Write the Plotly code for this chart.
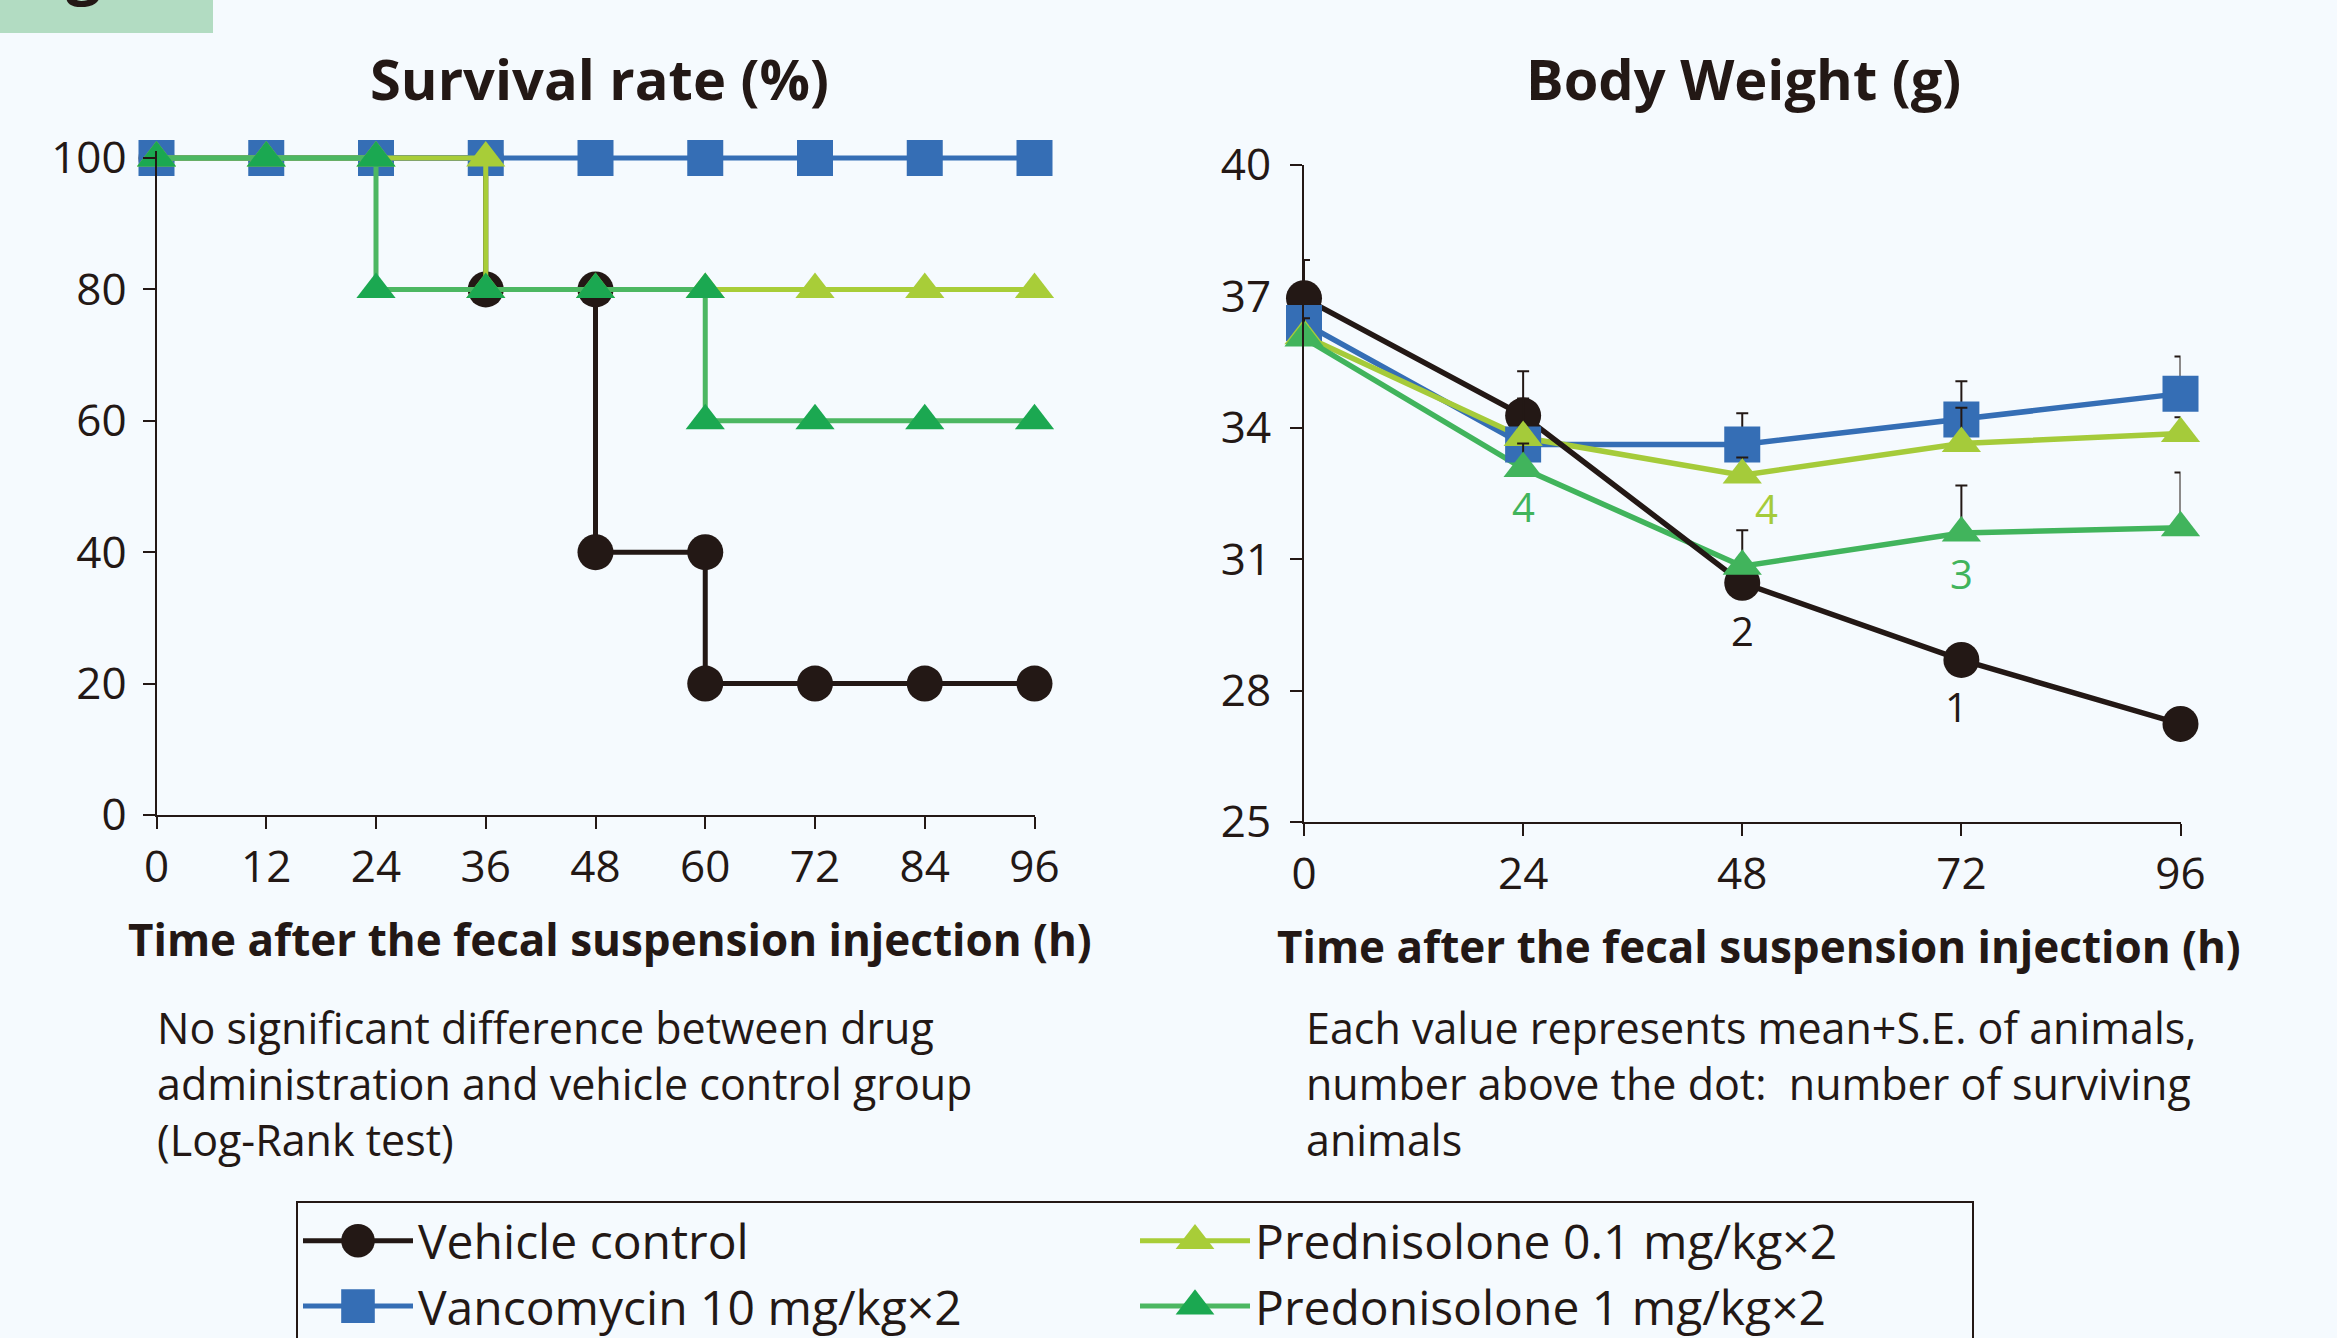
import plotly.graph_objects as go

# ---------------- data ----------------
series_names = ["Vehicle control", "Vancomycin 10 mg/kg×2",
                "Prednisolone 0.1 mg/kg×2", "Predonisolone 1 mg/kg×2"]

# Survival rate (%)
surv_time = [0, 12, 24, 36, 48, 60, 72, 84, 96]
surv_vehicle = [100, 100, 100, 80, 40, 20, 20, 20, 20]
surv_vanco = [100, 100, 100, 100, 100, 100, 100, 100, 100]
surv_pred01 = [100, 100, 100, 80, 80, 80, 80, 80, 80]
surv_pred1 = [100, 100, 80, 80, 80, 60, 60, 60, 60]

# Body weight (g), mean and +S.E.
bw_time = [0, 24, 48, 72, 96]
bw_vehicle = [36.96, 34.28, 30.46, 28.70, 27.24]
bw_vehicle_se = [0.87, 1.01, 1.20, 0.0, 0.0]
bw_vanco = [36.39, 33.62, 33.62, 34.19, 34.78]
bw_vanco_se = [0.26, 1.05, 0.71, 0.87, 0.85]
bw_pred01 = [36.10, 33.78, 32.92, 33.64, 33.87]
bw_pred01_se = [0.20, 0.20, 0.40, 0.82, 0.37]
bw_pred1 = [36.05, 33.07, 30.84, 31.60, 31.72]
bw_pred1_se = [0.45, 0.57, 0.0, 1.08, 1.26]

# number of surviving animals
n_label_series = [3, 2, 0, 3, 0]
n_label_time = [24, 48, 48, 72, 72]
n_label_text = ["4", "4", "2", "3", "1"]

surv_ticks = [0, 12, 24, 36, 48, 60, 72, 84, 96]
surv_yticks = [0, 20, 40, 60, 80, 100]
bw_xticks = [0, 24, 48, 72, 96]
bw_yticks = [25, 28, 31, 34, 37, 40]

# ---------------- style ----------------
W, H = 2337, 1338
BG = "#F5FAFE"
INK = "#231815"
FONT = "Open Sans"
surv_line_colors = [INK, "#356EB5", "#A8CD38", "#4CB762"]
surv_marker_colors = [INK, "#356EB5", "#A8CD38", "#1BA851"]
bw_colors = [INK, "#356EB5", "#A5CB3A", "#41B45C"]
symbols = ["circle", "square", "triangle-up", "triangle-up"]
msizes = [36, 36, 34, 34]
label_shift = [(0, -38), (24, -33), (0, -48), (0, -41), (-5, -47)]

# survival y axis: 0 at 815 px, 100 at 158 px; range top padded so lines at 100 are not clipped
SURV_Y0, SURV_Y100 = 815, 158
SURV_TOP = 101
surv_top_px = SURV_Y0 - (SURV_Y0 - SURV_Y100) * SURV_TOP / 100


def px_x(p):
    return p / W


def px_y(p):
    return 1 - p / H


def step_vertices(t, s):
    xs, ys = [t[0]], [s[0]]
    for i in range(1, len(t)):
        if s[i] != s[i - 1]:
            xs.append(t[i])
            ys.append(s[i - 1])
        xs.append(t[i])
        ys.append(s[i])
    return xs, ys


fig = go.Figure()

surv_series = [surv_vehicle, surv_vanco, surv_pred01, surv_pred1]
for i, s in enumerate(surv_series):
    xs, ys = step_vertices(surv_time, s)
    fig.add_trace(go.Scatter(
        x=xs, y=ys, mode="lines+markers", name=series_names[i],
        xaxis="x", yaxis="y", cliponaxis=False,
        line=dict(color=surv_line_colors[i], width=5),
        marker=dict(symbol=symbols[i], size=msizes[i], color=surv_marker_colors[i],
                    line=dict(width=0)),
        legendrank=[1, 3, 2, 4][i], showlegend=True,
    ))

bw_series = [bw_vehicle, bw_vanco, bw_pred01, bw_pred1]
bw_se = [bw_vehicle_se, bw_vanco_se, bw_pred01_se, bw_pred1_se]
# lines first
for i in [1, 2, 3, 0]:
    fig.add_trace(go.Scatter(
        x=bw_time, y=bw_series[i], mode="lines", xaxis="x2", yaxis="y2",
        line=dict(color=bw_colors[i], width=5.5), showlegend=False, hoverinfo="skip",
    ))
# markers with error bars
for i in range(4):
    fig.add_trace(go.Scatter(
        x=bw_time, y=bw_series[i], mode="markers", xaxis="x2", yaxis="y2",
        cliponaxis=False, showlegend=False,
        marker=dict(symbol=symbols[i], size=msizes[i], color=bw_colors[i], line=dict(width=0)),
        error_y=dict(type="data", array=bw_se[i], arrayminus=[0] * len(bw_se[i]),
                     symmetric=False, color=INK, thickness=2, width=6),
    ))

annotations = []
for k in range(len(n_label_text)):
    si = n_label_series[k]
    ti = bw_time.index(n_label_time[k])
    annotations.append(dict(
        x=n_label_time[k], y=bw_series[si][ti], xref="x2", yref="y2",
        xanchor="center", yanchor="middle",
        text=n_label_text[k], showarrow=False, xshift=label_shift[k][0], yshift=label_shift[k][1],
        font=dict(size=40, color=bw_colors[si], family=FONT),
    ))


def paper_text(text, x, y, size, weight=400, xanchor="center", yanchor="middle", align="center"):
    return dict(text=text, x=px_x(x), y=px_y(y), xref="paper", yref="paper",
                xanchor=xanchor, yanchor=yanchor, align=align, showarrow=False,
                font=dict(size=size, weight=weight, family=FONT, color=INK))


annotations += [
    paper_text("Survival rate (%)", 599, 78, 56, 700),
    paper_text("Body Weight (g)", 1743, 78, 56, 700),
    paper_text("Time after the fecal suspension injection (h)", 610, 939, 44, 700),
    paper_text("Time after the fecal suspension injection (h)", 1759, 946, 44, 700),
]
left_note = ["No significant difference between drug",
             "administration and vehicle control group",
             "(Log-Rank test)"]
right_note = ["Each value represents mean+S.E. of animals,",
              "number above the dot:  number of surviving",
              "animals"]
annotations.append(paper_text("<br>".join(left_note), 155, 1083.5, 43,
                              xanchor="left", align="left"))
annotations.append(paper_text("<br>".join(right_note), 1304, 1083.5, 43,
                              xanchor="left", align="left"))
# panel tag (cut off at the top like the reference)
annotations.append(dict(text="g", x=px_x(83), y=px_y(12), xref="paper", yref="paper",
                        xanchor="center", yanchor="bottom", showarrow=False,
                        font=dict(size=62, weight=700, family=FONT, color=INK)))

axis_common = dict(showline=True, linecolor=INK, linewidth=2, ticks="outside", ticklen=12,
                   tickwidth=2, tickcolor=INK, showgrid=False, zeroline=False,
                   tickfont=dict(size=44, family=FONT, color=INK))

fig.update_layout(
    width=W, height=H,
    margin=dict(l=0, r=0, t=0, b=0, autoexpand=False),
    paper_bgcolor=BG, plot_bgcolor=BG,
    font=dict(family=FONT, color=INK, size=44),
    xaxis=dict(domain=[px_x(156.5), px_x(1034.5)], range=[0, 96], tickvals=surv_ticks,
               anchor="y", ticklabelstandoff=0, **axis_common),
    yaxis=dict(domain=[px_y(SURV_Y0), px_y(surv_top_px)], range=[0, SURV_TOP],
               tickvals=surv_yticks, anchor="x", ticklabelstandoff=7, **axis_common),
    xaxis2=dict(domain=[px_x(1304), px_x(2180.5)], range=[0, 96], tickvals=bw_xticks,
                anchor="y2", ticklabelstandoff=0, **axis_common),
    yaxis2=dict(domain=[px_y(822), px_y(165)], range=[25, 40], tickvals=bw_yticks,
                anchor="x2", ticklabelstandoff=10, **axis_common),
    legend=dict(orientation="h", x=px_x(296), y=px_y(1201), xanchor="left", yanchor="top",
                bordercolor=INK, borderwidth=2, bgcolor=BG, font=dict(size=48, family=FONT),
                entrywidth=712, entrywidthmode="pixels", itemwidth=110),
    shapes=[dict(type="rect", xref="paper", yref="paper", x0=0, x1=px_x(213),
                 y0=px_y(33), y1=1, fillcolor="#B2DCC2", line=dict(width=0), layer="below")],
    annotations=annotations,
)

post = """
document.body.style.margin='0';
document.body.style.padding='0';
document.body.style.background='#F5FAFE';
var gd = document.getElementById('{plot_id}');
gd.querySelectorAll('.legend .legendpoints path.scatterpts').forEach(function(p){
  var t = p.getAttribute('transform') || '';
  p.setAttribute('transform', t + ' scale(2.1)');
});
"""

fig.write_html("out.html", post_script=post, config={"displayModeBar": False})
